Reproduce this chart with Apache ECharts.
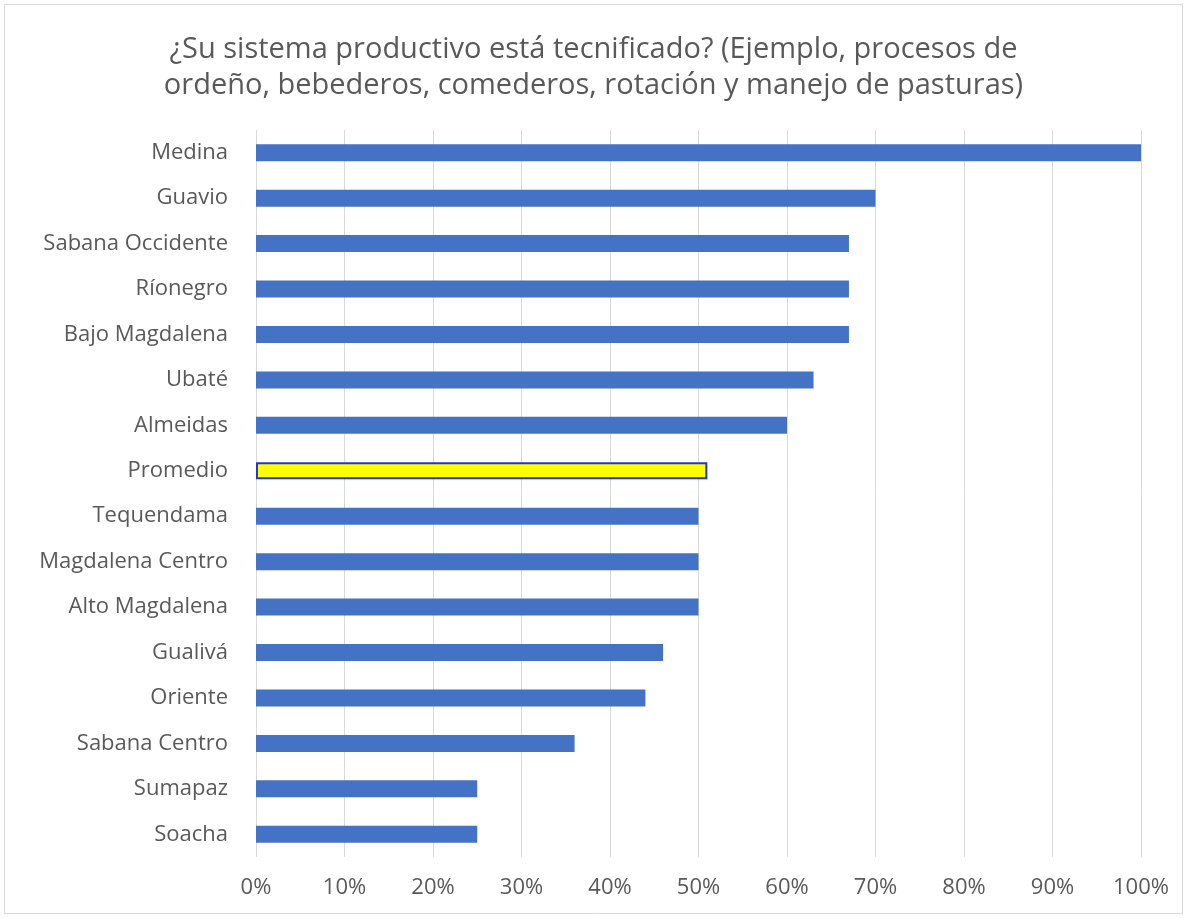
<!DOCTYPE html>
<html>
<head>
<meta charset="utf-8">
<script src="https://cdn.jsdelivr.net/npm/echarts@6/dist/echarts.min.js"></script>
<style>
	html, body { margin: 0; padding: 0; background: #fff; }
	#chart { width: 1187px; height: 918px; }
</style>
</head>
<body>
<div id="chart"></div>
<script>
// regiones, de arriba a abajo
var regiones = [
	'Medina', 'Guavio', 'Sabana Occidente', 'Ríonegro', 'Bajo Magdalena',
	'Ubaté', 'Almeidas', 'Promedio', 'Tequendama', 'Magdalena Centro',
	'Alto Magdalena', 'Gualivá', 'Oriente', 'Sabana Centro', 'Sumapaz', 'Soacha'
]
// proporción tecnificada
var valores = [1.00, 0.70, 0.67, 0.67, 0.67, 0.63, 0.60, 0.51, 0.50, 0.50, 0.50, 0.46, 0.44, 0.36, 0.25, 0.25]
var promedioNombre = 'Promedio'

var textColor = '#595959'
var fontFam = '"Open Sans", "Liberation Sans", sans-serif'

var barData = regiones.map(function(r, i) {
	if (r == promedioNombre) {
		return {
			value: valores[i],
			itemStyle: { color: '#FFFF00', borderColor: '#2136D6', borderWidth: 2 }
		}
	}
	return valores[i]
})

var option = {
	backgroundColor: '#fff',
	animation: false,
	title: {
		text: '¿Su sistema productivo está tecnificado? (Ejemplo, procesos de\nordeño, bebederos, comederos, rotación y manejo de pasturas)',
		left: 'center',
		top: 27,
		textStyle: {
			color: textColor,
			fontFamily: fontFam,
			fontSize: 29,
			fontWeight: 'normal',
			lineHeight: 36
		}
	},
	graphic: [{
		type: 'rect',
		shape: { x: 4.5, y: 4.5, width: 1178, height: 909 },
		style: { fill: 'none', stroke: '#d9d9d9', lineWidth: 1 },
		silent: true
	}],
	grid: {
		left: 256,
		right: 46,
		top: 130,
		bottom: 61
	},
	xAxis: {
		type: 'value',
		min: 0,
		max: 1,
		interval: 0.1,
		axisLine: { show: false },
		axisTick: { show: false },
		splitLine: { lineStyle: { color: '#d9d9d9', width: 1 } },
		axisLabel: {
			margin: 20,
			color: textColor,
			fontFamily: fontFam,
			fontSize: 22,
			formatter: function(v) { return Math.round(v * 100) + '%' }
		}
	},
	yAxis: {
		type: 'category',
		inverse: true,
		data: regiones,
		axisLine: { show: false },
		axisTick: { show: false },
		axisLabel: {
			margin: 28,
			color: textColor,
			fontFamily: fontFam,
			fontSize: 22
		}
	},
	series: [{
		type: 'bar',
		data: barData,
		barWidth: 17,
		itemStyle: { color: '#4472C4' }
	}]
}

var myChart = echarts.init(document.getElementById('chart'))
myChart.setOption(option)
</script>
</body>
</html>
